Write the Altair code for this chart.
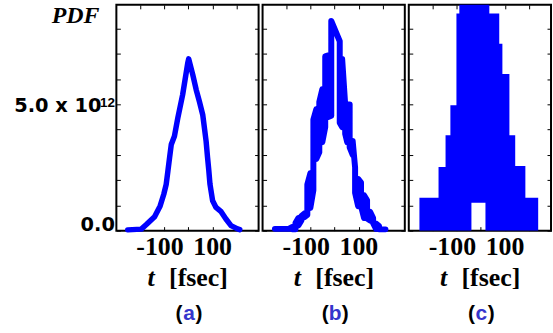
import altair as alt
import pandas as pd

# ---------------- data (values in units of 1e12) ----------------
# panel (a): smooth PDF
ta = [-251, -195, -174, -140, -117, -102, -92, -85, -78, -71, -58, -44, -24, -3, 1,
      18, 32, 45, 59, 66, 73, 79, 84, 89, 100, 114, 135, 155, 176, 203, 212]
va = [0.03, 0.06, 0.24, 0.55, 0.98, 1.44, 1.83, 2.36, 2.89, 3.41, 3.74, 4.46, 5.38, 6.63, 6.8,
      6.17, 5.58, 5.12, 4.59, 4.07, 3.54, 2.9, 2.4, 1.84, 1.18, 0.92, 0.75, 0.46, 0.2, 0.07, 0.04]

# panel (b): noisy PDF (fast jumps between neighbouring samples)
tb = [-247, -190,
      -174.5, -174.5, -162, -162, -150, -150, -137.5, -137.5, -125, -125, -113, -113,
      -100.5, -100.5, -88, -88, -76, -76, -63.5, -63.5, -51, -51, -39, -39, -26.5, -26.5,
      -14, -14, 21, 21, 31, 31, 43.5, 43.5, 52, 52, 62, 62, 74.5, 74.5, 84.5, 84.5,
      97, 97, 109, 109, 121.5, 121.5, 134, 134, 146.5, 146.5, 159, 159, 171, 171,
      183.5, 183.5, 210]
vb = [0.07, 0.07,
      0.15, 0.05, 0.05, 0.3, 0.5, 0.2, 0.4, 0.58, 0.68, 0.53, 0.62, 1.83,
      2.27, 0.9, 1.6, 4.4, 4.8, 2.84, 3.1, 5.1, 5.6, 3.5, 4.1, 6.9, 6.94, 4.5,
      4.55, 8.3, 7.5, 4.27, 4.1, 6.8, 5.0, 3.83, 3.5, 5.0, 5.0, 3.3, 3.0, 3.55, 2.5, 1.5,
      0.97, 2.05, 1.9, 0.97, 0.5, 1.4, 1.2, 0.48, 0.4, 0.75, 0.5, 0.3, 0.07, 0.28,
      0.18, 0.05, 0.05]

# panel (c): oscillation fills a stepped band (upper / lower envelopes)
tc = [-254, -175, -146, -126, -101, -89, -39, 19, 35, 76, 89, 118, 142, 184, 237]
hic = [1.30, 2.52, 3.78, 4.96, 8.6, 12, 12, 12, 8.6, 7.4, 6.2, 3.78, 2.56, 1.30, 1.30]
loc = [0, 0, 0, 0, 0, 0, 1.1, 0, 0, 0, 0, 0, 0, 0, 0]

x_ticks = [-200, -100, 0, 100, 200]
y_ticks = [0, 1, 2, 3, 4, 5, 6, 7, 8]
panel_letters = ["a", "b", "c"]
x_title_var = "t"
x_title_unit = "[fsec]"
y_title = "PDF"
y_label_value = 5
y_label_main = "5.0 x 10"
y_exponent = "12"

# ---------------- styling ----------------
W, H = 143, 227
BLUE = "#0000FF"
LETTER = "#3535CC"
X_MIN, X_MAX = -298, 290
xs = alt.Scale(domain=[X_MIN, X_MAX], nice=False, zero=False)
ys = alt.Scale(domain=[0, 8.94], nice=False, zero=False)

tick_common = dict(tickSize=4, offset=-4, domain=False, grid=False,
                   tickColor="black", tickWidth=1, title=None)


def x_bottom():
    return alt.Axis(orient="bottom", values=x_ticks,
                    labelExpr="datum.value == -100 ? '-100' : (datum.value == 100 ? '100' : '')",
                    labelFont="Liberation Serif", labelFontWeight="bold", labelFontSize=26,
                    labelColor="black", labelAlign="right", labelOffset=19,
                    labelPadding=3, labelOverlap=False, **tick_common)


def y_left(with_labels):
    if with_labels:
        return alt.Axis(orient="left", values=y_ticks,
                        labelExpr="datum.value == 0 ? '0.0' : ''",
                        labelFont="DejaVu Sans", labelFontWeight="bold", labelFontSize=19.5,
                        labelColor="black", labelPadding=2, labelFlush=True,
                        labelFlushOffset=4, labelOverlap=False, **tick_common)
    return alt.Axis(orient="left", values=y_ticks, labels=False, **tick_common)


def ghost_axes():
    g = pd.DataFrame({"t": [0], "v": [0]})
    return alt.Chart(g).mark_point(opacity=0).encode(
        x=alt.X("t:Q", scale=xs, axis=alt.Axis(orient="top", values=x_ticks, labels=False, **tick_common)),
        y=alt.Y("v:Q", scale=ys, axis=alt.Axis(orient="right", values=y_ticks, labels=False, **tick_common)),
    )


def bottom_texts(letter):
    one = pd.DataFrame({"k": [0]})
    base = alt.Chart(one)
    return [
        base.mark_text(text=x_title_var, font="Liberation Serif", fontStyle="italic",
                       fontWeight="bold", fontSize=26, align="center", baseline="alphabetic",
                       color="black").encode(x=alt.value(35), y=alt.value(282.5)),
        base.mark_text(text=x_title_unit, font="Liberation Serif", fontWeight="bold",
                       fontSize=26, align="left", baseline="alphabetic",
                       color="black").encode(x=alt.value(53), y=alt.value(282.5)),
        base.mark_text(text="(", font="Liberation Sans", fontWeight="bold", fontSize=21,
                       align="right", baseline="alphabetic", color="black").encode(
            x=alt.value(66.5), y=alt.value(317)),
        base.mark_text(text=letter, font="Liberation Sans", fontWeight="bold", fontSize=21,
                       align="center", baseline="alphabetic", color=LETTER).encode(
            x=alt.value(73), y=alt.value(317)),
        base.mark_text(text=")", font="Liberation Sans", fontWeight="bold", fontSize=21,
                       align="left", baseline="alphabetic", color="black").encode(
            x=alt.value(79.5), y=alt.value(317)),
    ]


def left_texts():
    one = pd.DataFrame({"k": [0]})
    base = alt.Chart(one)
    return [
        base.mark_text(text=y_title, font="Liberation Serif", fontStyle="italic",
                       fontWeight="bold", fontSize=24, align="right",
                       baseline="alphabetic", color="black").encode(
            x=alt.value(-17), y=alt.value(18.7)),
        base.mark_text(text=y_label_main, font="DejaVu Sans", fontWeight="bold",
                       fontSize=19.5, align="right", baseline="middle", dx=-15, dy=2,
                       color="black").encode(
            x=alt.X(datum=X_MIN, scale=xs, axis=None),
            y=alt.Y(datum=y_label_value, scale=ys, axis=None)),
        base.mark_text(text=y_exponent, font="Liberation Sans", fontWeight="bold",
                       fontSize=13.5, align="right", baseline="alphabetic", dx=-1.5, dy=2.5,
                       color="black").encode(
            x=alt.X(datum=X_MIN, scale=xs, axis=None),
            y=alt.Y(datum=y_label_value, scale=ys, axis=None)),
    ]


# panel (a)
dfa = pd.DataFrame({"t": ta, "v": va, "i": range(len(ta))})
line_a = alt.Chart(dfa).mark_line(color=BLUE, strokeWidth=5.5, strokeJoin="round",
                                  strokeCap="round").encode(
    x=alt.X("t:Q", scale=xs, axis=x_bottom()),
    y=alt.Y("v:Q", scale=ys, axis=y_left(True)),
    order="i:Q")
pa = alt.layer(line_a, ghost_axes(), *bottom_texts(panel_letters[0]), *left_texts()).properties(width=W, height=H)

# panel (b)
dfb = pd.DataFrame({"t": tb, "v": vb, "i": range(len(tb))})
line_b = alt.Chart(dfb).mark_line(color=BLUE, strokeWidth=6, strokeJoin="round",
                                  strokeCap="round").encode(
    x=alt.X("t:Q", scale=xs, axis=x_bottom()),
    y=alt.Y("v:Q", scale=ys, axis=y_left(False)),
    order="i:Q")
pb = alt.layer(line_b, ghost_axes(), *bottom_texts(panel_letters[1])).properties(width=W, height=H)

# panel (c)
dfc = pd.DataFrame({"t": tc, "hi": hic, "lo": loc})
area_c = alt.Chart(dfc).mark_area(color=BLUE, interpolate="step-after", clip=True,
                                  opacity=1).encode(
    x=alt.X("t:Q", scale=xs, axis=x_bottom()),
    y=alt.Y("hi:Q", scale=ys, axis=y_left(False)),
    y2="lo:Q")
pc = alt.layer(area_c, ghost_axes(), *bottom_texts(panel_letters[2])).properties(width=W, height=H)

chart = alt.hconcat(pa, pb, pc, spacing=0).properties(
    padding={"left": 13, "top": 2, "right": 0, "bottom": 0},
    background="white",
).configure_view(stroke="black", strokeWidth=2)

chart.save("out.html", embed_options={"renderer": "svg", "actions": False})
